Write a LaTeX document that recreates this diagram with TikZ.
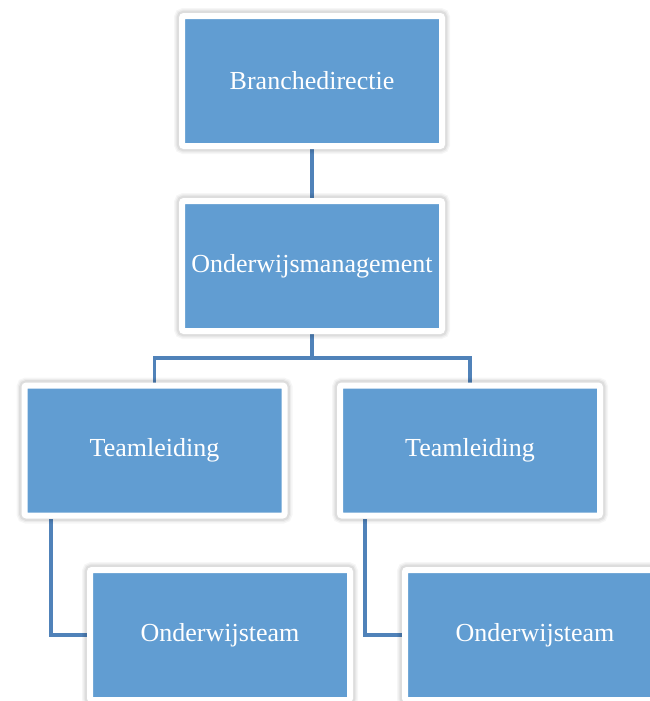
\documentclass[tikz,border=0pt]{standalone}
\usepackage{fontspec}
\setmainfont{Liberation Serif}
\usetikzlibrary{backgrounds}
\definecolor{boxblue}{RGB}{97,157,210}
\definecolor{linkblue}{RGB}{80,130,185}
\tikzset{
  orgbox/.style={rectangle, minimum width=195pt, minimum height=97.5pt, inner sep=0pt,
    fill=boxblue, draw=white, line width=4.5pt, rounded corners=1.5pt, text=white,
    font=\fontsize{19.5}{23}\selectfont,
    preaction={draw=black, line width=12pt, opacity=0.035},
    preaction={draw=black, line width=10pt, opacity=0.045},
    preaction={draw=black, line width=8pt, opacity=0.06}},
  link/.style={draw=linkblue, line width=2.9pt}
}
\begin{document}
\begin{tikzpicture}[x=0.75pt, y=-0.75pt]
\useasboundingbox (0,0) rectangle (650,701);
\clip (0,0) rectangle (650,701);
\node[orgbox] (b1) at (312,81) {Branchedirectie};
\node[orgbox] (b2) at (312,266) {Onderwijsmanagement};
\node[orgbox] (b3) at (154.5,450.5) {Teamleiding};
\node[orgbox] (b4) at (470,450.5) {Teamleiding};
\node[orgbox] (b5) at (220,635) {Onderwijsteam};
\node[orgbox] (b6) at (535,635) {Onderwijsteam};
\coordinate (j) at (312,358);
\begin{scope}[on background layer]
\draw[link] (b1) -- (b2);
\draw[link] (b2) -- (j);
\draw[link] (b3.north) |- (j) -| (b4.north);
\draw[link] ([xshift=22pt]b3.south west) |- (b5.west);
\draw[link] ([xshift=21pt]b4.south west) |- (b6.west);
\end{scope}
\end{tikzpicture}
\end{document}
